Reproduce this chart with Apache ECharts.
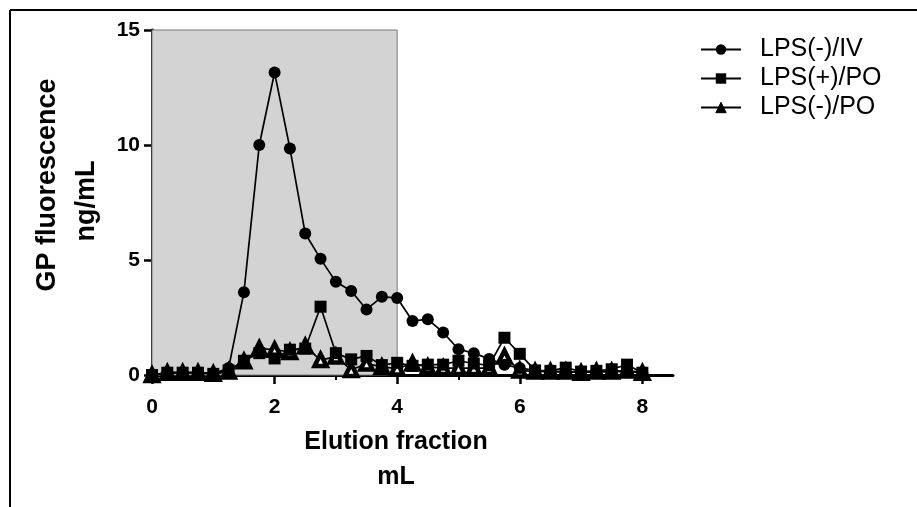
<!DOCTYPE html>
<html>
<head>
<meta charset="utf-8">
<script src="https://cdn.jsdelivr.net/npm/echarts@6/dist/echarts.min.js"></script>
<style>
html,body{margin:0;padding:0;background:#fff;}
#chart{width:917px;height:507px;}
</style>
</head>
<body>
<div id="chart"></div>
<script>
// Elution fraction (mL)
var fractions = [0,0.25,0.5,0.75,1,1.25,1.5,1.75,2,2.25,2.5,2.75,3,3.25,3.5,3.75,4,4.25,4.5,4.75,5,5.25,5.5,5.75,6,6.25,6.5,6.75,7,7.25,7.5,7.75,8];
// GP fluorescence (ng/mL)
var lpsNegIV = [0,0.1,0.1,0.1,0.05,0.3,3.6,10.0,13.15,9.85,6.15,5.05,4.05,3.65,2.85,3.4,3.35,2.35,2.42,1.85,1.12,0.95,0.7,0.45,0.3,0.2,0.15,0.15,0.12,0.15,0.15,0.15,0.1];
var lpsPosPO = [0,0.1,0.1,0.1,0.05,0.2,0.62,0.95,0.72,1.1,1.15,2.97,0.95,0.68,0.83,0.43,0.53,0.4,0.45,0.45,0.62,0.5,0.42,1.62,0.92,0.2,0.18,0.32,0.15,0.18,0.25,0.45,0.1];
var lpsNegPO = [0,0.1,0.1,0.1,0.05,0.15,0.6,1.15,1.1,1.0,1.25,0.65,0.8,0.22,0.5,0.35,0.28,0.5,0.35,0.3,0.3,0.3,0.3,0.8,0.2,0.15,0.15,0.15,0.1,0.15,0.15,0.2,0.1];
var seriesNames = ['LPS(-)/IV','LPS(+)/PO','LPS(-)/PO'];
var shadedRange = [0, 4];
var xMajorTicks = [0,2,4,6,8];
var xMinorTicks = [1,3,5,7];

function pairs(ys){ return fractions.map(function(x,i){ return [x, ys[i]]; }); }

var FONT = 'Liberation Sans, Arial, Helvetica, sans-serif';
var chart = echarts.init(document.getElementById('chart'), null, {renderer:'canvas'});
var lineStyle = {color:'#000', width:1.7};

chart.setOption({
  animation:false,
  backgroundColor:'#fff',
  grid:{left:152, top:30, right:244, bottom:132, containLabel:false},
  legend:{
    data:[
      {name:seriesNames[0]},
      {name:seriesNames[1]},
      {name:seriesNames[2], itemStyle:{color:'#000', borderColor:'#000', borderWidth:1}}
    ],
    orient:'vertical', left:695, top:32,
    itemWidth:40, itemHeight:13, itemGap:4,
    textStyle:{fontFamily:FONT, fontSize:25, color:'#000', padding:[0,0,0,14]}
  },
  xAxis:[{
    type:'value', min:0, max:8.5,
    axisLine:{show:true, onZero:false, lineStyle:{color:'#000', width:3}},
    axisTick:{show:true, customValues:xMajorTicks, length:9, lineStyle:{color:'#000', width:2.5}},
    axisLabel:{show:true, customValues:xMajorTicks, margin:22, fontFamily:FONT, fontWeight:'bold', fontSize:21, color:'#000'},
    splitLine:{show:false}
  },{
    type:'value', min:0, max:8.5, position:'bottom',
    axisLine:{show:false},
    axisTick:{show:true, customValues:xMinorTicks, length:5, lineStyle:{color:'#000', width:2}},
    axisLabel:{show:false},
    splitLine:{show:false}
  }],
  yAxis:{
    type:'value', min:0, max:15, interval:5,
    axisLine:{show:true, lineStyle:{color:'#000', width:3}},
    axisTick:{show:true, length:8, lineStyle:{color:'#000', width:2.5}},
    axisLabel:{margin:12, fontFamily:FONT, fontWeight:'bold', fontSize:21, color:'#000'},
    splitLine:{show:false}
  },
  graphic:[
    {type:'line', shape:{x1:10,y1:10,x2:917,y2:10}, style:{stroke:'#000', lineWidth:2}, z:100},
    {type:'line', shape:{x1:10,y1:10,x2:10,y2:507}, style:{stroke:'#000', lineWidth:2}, z:100},
    {type:'text', x:48, y:185, rotation:Math.PI/2, style:{text:'GP fluorescence', font:'bold 27px '+FONT, fill:'#000', align:'center', verticalAlign:'middle', textAlign:'center', textVerticalAlign:'middle'}},
    {type:'text', x:87, y:201, rotation:Math.PI/2, style:{text:'ng/mL', font:'bold 27px '+FONT, fill:'#000', align:'center', verticalAlign:'middle', textAlign:'center', textVerticalAlign:'middle'}},
    {type:'text', x:396, y:442, style:{text:'Elution fraction', font:'bold 25px '+FONT, fill:'#000', align:'center', verticalAlign:'middle', textAlign:'center', textVerticalAlign:'middle'}},
    {type:'text', x:396, y:477, style:{text:'mL', font:'bold 25px '+FONT, fill:'#000', align:'center', verticalAlign:'middle', textAlign:'center', textVerticalAlign:'middle'}}
  ],
  series:[
    {
      name:seriesNames[2], type:'line', data:pairs(lpsNegPO), clip:false,
      symbol:'triangle', symbolSize:12,
      lineStyle:lineStyle,
      itemStyle:{color:'#fff', borderColor:'#000', borderWidth:4.5},
      markArea:{
        silent:true,
        itemStyle:{color:'#d3d3d3', borderColor:'#7a7a7a', borderWidth:1},
        data:[[{xAxis:shadedRange[0], yAxis:0},{xAxis:shadedRange[1], yAxis:15}]]
      },
      z:2
    },
    {
      name:seriesNames[1], type:'line', data:pairs(lpsPosPO), clip:false,
      symbol:'rect', symbolSize:12,
      lineStyle:lineStyle,
      itemStyle:{color:'#000'},
      z:3
    },
    {
      name:seriesNames[0], type:'line', data:pairs(lpsNegIV), clip:false,
      symbol:'circle', symbolSize:12,
      lineStyle:lineStyle,
      itemStyle:{color:'#000'},
      z:4
    }
  ]
});
</script>
</body>
</html>
